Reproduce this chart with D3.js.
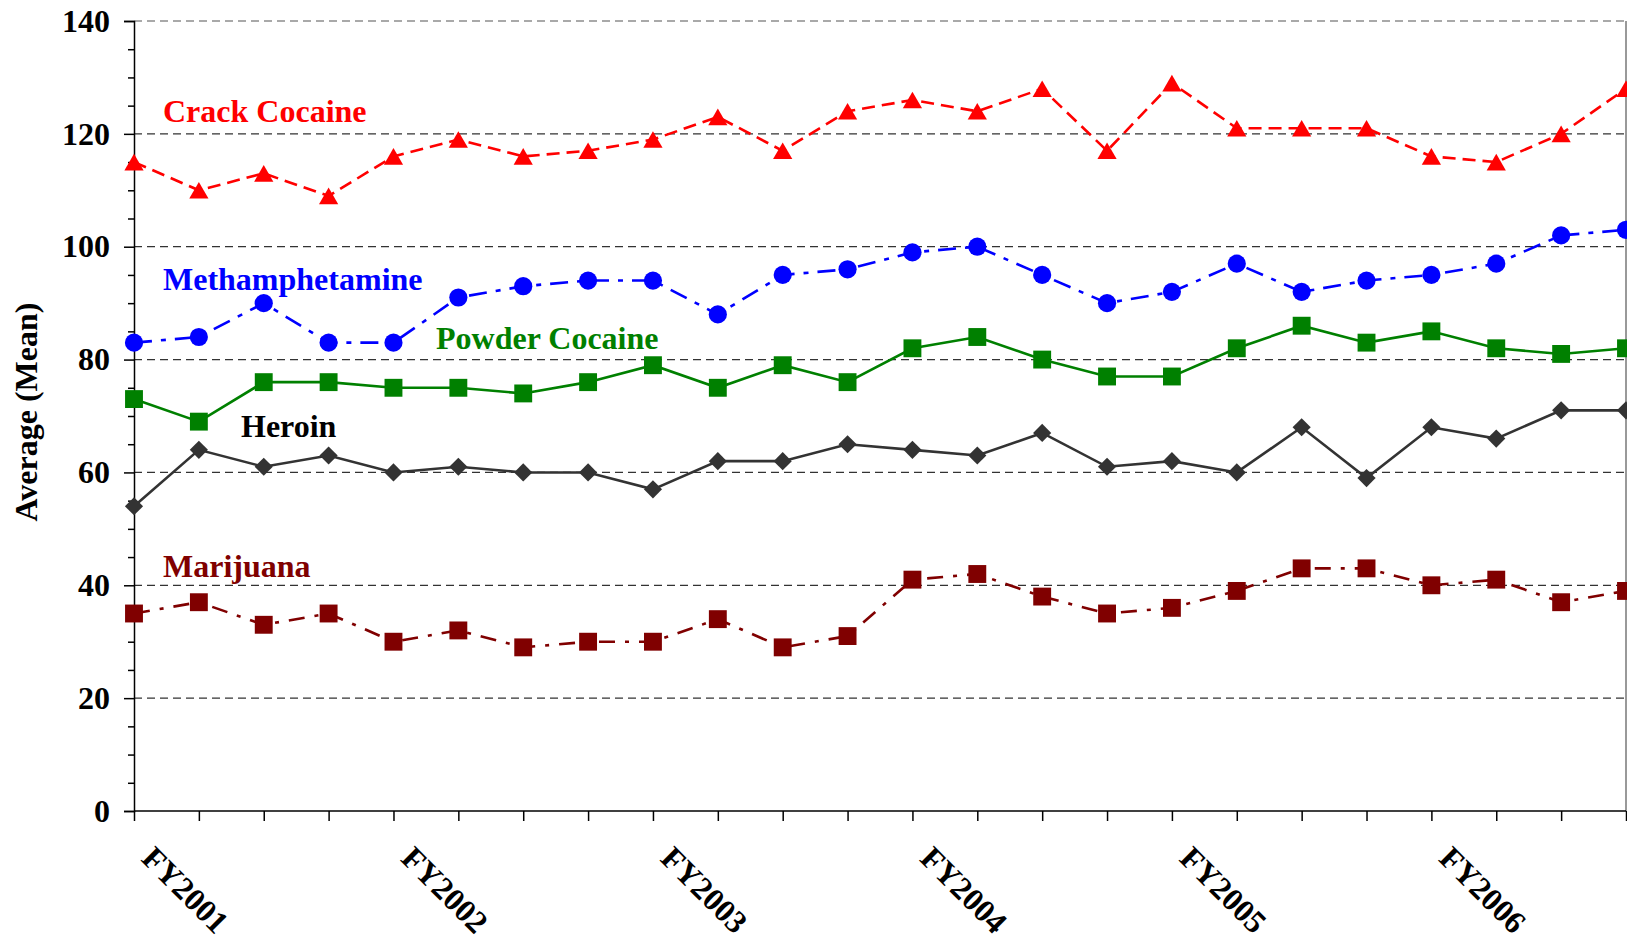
<!DOCTYPE html>
<html>
<head>
<meta charset="utf-8">
<script src="https://cdn.jsdelivr.net/npm/d3@7"></script>
<style>
  body { margin: 0; background: #fff; }
  text { font-family: "Liberation Serif", "Times New Roman", serif; font-weight: bold; }
</style>
</head>
<body>
<svg id="chart" width="1627" height="940"></svg>
<script>
// 1: DATA
const quarters = ["FY2001", "FY2001 Q2", "FY2001 Q3", "FY2001 Q4",
                  "FY2002", "FY2002 Q2", "FY2002 Q3", "FY2002 Q4",
                  "FY2003", "FY2003 Q2", "FY2003 Q3", "FY2003 Q4",
                  "FY2004", "FY2004 Q2", "FY2004 Q3", "FY2004 Q4",
                  "FY2005", "FY2005 Q2", "FY2005 Q3", "FY2005 Q4",
                  "FY2006", "FY2006 Q2", "FY2006 Q3", "FY2006 Q4"];
const tickLabels = ["FY2001", "FY2002", "FY2003", "FY2004", "FY2005", "FY2006"];
const yTicks = [0, 20, 40, 60, 80, 100, 120, 140];

const crackCocaine = [115, 110, 113, 109, 116, 119, 116, 117, 119, 123, 117, 124, 126, 124, 128, 117, 129, 121, 121, 121, 116, 115, 120, 128];
const methamphetamine = [83, 84, 90, 83, 83, 91, 93, 94, 94, 88, 95, 96, 99, 100, 95, 90, 92, 97, 92, 94, 95, 97, 102, 103];
const powderCocaine = [73, 69, 76, 76, 75, 75, 74, 76, 79, 75, 79, 76, 82, 84, 80, 77, 77, 82, 86, 83, 85, 82, 81, 82];
const heroin = [54, 64, 61, 63, 60, 61, 60, 60, 57, 62, 62, 65, 64, 63, 67, 61, 62, 60, 68, 59, 68, 66, 71, 71];
const marijuana = [35, 37, 33, 35, 30, 32, 29, 30, 30, 34, 29, 31, 41, 42, 38, 35, 36, 39, 43, 43, 40, 41, 37, 39];

const series = [
    { name: "Crack Cocaine", values: crackCocaine, color: "#ff0000", labelColor: "#ff0000", dash: "13,7", symbol: d3.symbolTriangle, size: 160, lx: 163, ly: 122 },
    { name: "Methamphetamine", values: methamphetamine, color: "#0000ff", labelColor: "#0000ff", dash: "18,9,5,9", symbol: d3.symbolCircle, size: 260, lx: 163, ly: 290 },
    { name: "Powder Cocaine", values: powderCocaine, color: "#008000", labelColor: "#008000", dash: null, symbol: d3.symbolSquare, size: 320, lx: 436, ly: 349 },
    { name: "Heroin", values: heroin, color: "#333333", labelColor: "#000000", dash: null, symbol: d3.symbolSquare, size: 165, rotate: 45, lx: 241, ly: 437 },
    { name: "Marijuana", values: marijuana, color: "#800000", labelColor: "#800000", dash: "16,10,4,10", symbol: d3.symbolSquare, size: 320, lx: 163, ly: 577 }
];

// 2: SCALES
const plotLeft = 134, plotRight = 1626, plotTop = 21, plotBottom = 811;
const svg = d3.select("#chart");

const xScale = d3.scalePoint().domain(quarters).range([plotLeft, plotRight]);
const yScale = d3.scaleLinear().domain([0, 140]).range([plotBottom, plotTop]);

// 3: GRID
svg.append("g")
    .selectAll("line")
    .data(yTicks.filter(v => v > 0))
    .join("line")
    .attr("x1", plotLeft).attr("x2", plotRight)
    .attr("y1", d => yScale(d)).attr("y2", d => yScale(d))
    .attr("stroke", d => d === 140 ? "#555" : "#333")
    .attr("stroke-width", 1.2)
    .attr("stroke-dasharray", "8,5");

// right border
svg.append("line")
    .attr("x1", plotRight).attr("x2", plotRight)
    .attr("y1", plotTop).attr("y2", plotBottom)
    .attr("stroke", "#777").attr("stroke-width", 1.5);

// 4: AXES
const yAxis = svg.append("g")
    .attr("transform", `translate(${plotLeft},0)`)
    .call(d3.axisLeft(yScale).tickValues(yTicks).tickSize(10).tickPadding(14));
yAxis.selectAll("text").style("font-size", "32px").attr("fill", "#000");

svg.append("g")
    .attr("transform", `translate(${plotLeft},0)`)
    .call(d3.axisLeft(yScale).tickValues(d3.range(5, 140, 5).filter(v => v % 20)).tickSize(6).tickFormat(""))
    .call(g => g.select(".domain").remove());

const xAxis = svg.append("g")
    .attr("transform", `translate(0,${plotBottom})`)
    .call(d3.axisBottom(xScale).tickSize(10).tickFormat(""));
xAxis.select(".domain").attr("d", `M${plotLeft},0H${plotRight}`);

svg.selectAll(".domain, .tick line").attr("stroke", "#000").attr("stroke-width", 1.5);

// rotated year labels
svg.append("g")
    .selectAll("text")
    .data(tickLabels)
    .join("text")
    .attr("transform", d => `translate(${xScale(d) + 6},${plotBottom + 49}) rotate(45)`)
    .style("font-size", "32px")
    .text(d => d);

// y title
svg.append("text")
    .attr("transform", `translate(37,412) rotate(-90)`)
    .attr("text-anchor", "middle")
    .style("font-size", "32px")
    .text("Average (Mean)");

// 5: LINES + MARKERS
const line = d3.line()
    .x((d, i) => xScale(quarters[i]))
    .y(d => yScale(d));

series.forEach(s => {
    svg.append("path")
        .datum(s.values)
        .attr("fill", "none")
        .attr("stroke", s.color)
        .attr("stroke-width", 2.6)
        .attr("stroke-dasharray", s.dash)
        .attr("d", line);

    // triangles: centre the bounding box on the point, not the centroid
    const dy = s.symbol === d3.symbolTriangle ? Math.sqrt(s.size / (Math.sqrt(3) * 3)) / 2 : 0;

    svg.append("g")
        .selectAll("path")
        .data(s.values)
        .join("path")
        .attr("transform", (d, i) => `translate(${xScale(quarters[i])},${yScale(d) + dy}) rotate(${s.rotate || 0})`)
        .attr("d", d3.symbol(s.symbol, s.size))
        .attr("fill", s.color);

    svg.append("text")
        .attr("x", s.lx)
        .attr("y", s.ly)
        .attr("fill", s.labelColor)
        .style("font-size", "32px")
        .text(s.name);
});
</script>
</body>
</html>
